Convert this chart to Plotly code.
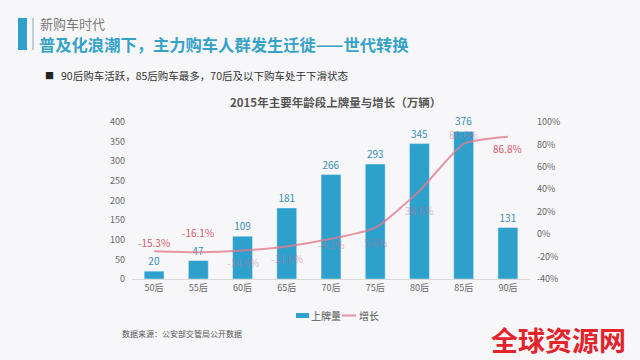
import plotly.graph_objects as go

categories = ["50后", "55后", "60后", "65后", "70后", "75后", "80后", "85后", "90后"]
plates = [20, 47, 109, 181, 266, 293, 345, 376, 131]
growth = [-15.3, -16.1, -14.6, -11.0, -4.2, 5.6, 38.6, 80.6, 86.8]
growth_label_shift = [9, 20, -12, -12, -6, -15, -20, 9, -12]
growth_over_bar = [False, False, True, True, True, True, True, True, False]
left_ticks = [0, 50, 100, 150, 200, 250, 300, 350, 400]
right_ticks = [-40, -20, 0, 20, 40, 60, 80, 100]

FONT = "Noto Sans CJK SC, Noto Sans, sans-serif"
BG = "#f7f7f9"
BAR = "#2ea0cc"
LINE = "rgba(226,124,142,0.8)"
RED = "#d65a6c"
RED_FADED = "rgba(200,110,140,0.5)"

fig = go.Figure()
fig.add_trace(go.Bar(
    x=categories, y=plates, name="上牌量", marker_color=BAR,
    text=[str(v) for v in plates], textposition="outside",
    textfont=dict(color="#3a8cb6", size=10, family=FONT), cliponaxis=False,
    showlegend=False, hoverinfo="skip",
))
fig.add_trace(go.Scatter(
    x=categories, y=growth, name="增长", yaxis="y2", mode="lines",
    line=dict(color=LINE, width=2, shape="spline", smoothing=0.5),
    cliponaxis=False, showlegend=False, hoverinfo="skip",
))

for cat, val, shift, over in zip(categories, growth, growth_label_shift, growth_over_bar):
    fig.add_annotation(x=cat, y=val, xref="x", yref="y2", yshift=shift, showarrow=False,
                       text=f"{val:.1f}%",
                       font=dict(size=10, family=FONT, color=RED_FADED if over else RED))

fig.update_layout(
    width=640, height=360,
    paper_bgcolor=BG, plot_bgcolor=BG,
    margin=dict(l=132, r=110, t=122, b=81),
    font=dict(family=FONT, color="#666", size=9),
    bargap=0.55,
    xaxis=dict(showline=True, linecolor="#d9d9d9", linewidth=1, ticks="",
               tickfont=dict(size=9, color="#666"), showgrid=False),
    yaxis=dict(range=[0, 400], tickvals=left_ticks, showgrid=False, zeroline=False,
               showline=False, tickfont=dict(size=9, color="#666"), ticklabelstandoff=6),
    yaxis2=dict(range=[-40, 100], tickvals=right_ticks, ticktext=[f"{v}%" for v in right_ticks],
                overlaying="y", side="right", showgrid=False, zeroline=False, showline=False,
                tickfont=dict(size=9, color="#666"), ticklabelstandoff=6),
)


def px_x(x):
    return (x - 132) / 398


def px_y(y):
    return (279 - y) / 157


# header decoration
fig.add_shape(type="rect", xref="paper", yref="paper", line_width=0, fillcolor="#2fa0c9",
              x0=px_x(18), x1=px_x(27), y0=px_y(50), y1=px_y(18))
fig.add_shape(type="line", xref="paper", yref="paper", line=dict(color="#8fa9b6", width=1),
              x0=px_x(33), x1=px_x(33), y0=px_y(50), y1=px_y(18))

# custom legend
fig.add_shape(type="rect", xref="paper", yref="paper", line_width=0, fillcolor=BAR,
              x0=px_x(296), x1=px_x(309), y0=px_y(318), y1=px_y(313))
fig.add_shape(type="line", xref="paper", yref="paper", line=dict(color=LINE, width=2),
              x0=px_x(342), x1=px_x(356), y0=px_y(315.5), y1=px_y(315.5))

ann = [
    dict(text="新购车时代", x=38, y=24, size=13, color="#7a7a7a", xanchor="left"),
    dict(text="<b>普及化浪潮下，主力购车人群发生迁徙——世代转换</b>", x=37, y=44, size=16.3,
         color="#36a2c8", xanchor="left"),
    dict(text="■", x=43, y=75, size=9, color="#222", xanchor="left"),
    dict(text="90后购车活跃，85后购车最多，70后及以下购车处于下滑状态", x=59, y=75, size=10.5,
         color="#333", xanchor="left"),
    dict(text="<b>2015年主要年龄段上牌量与增长（万辆）</b>", x=335, y=102, size=11.5,
         color="#555", xanchor="center"),
    dict(text="上牌量", x=309, y=315.5, size=10, color="#555", xanchor="left"),
    dict(text="增长", x=357, y=315.5, size=10, color="#555", xanchor="left"),
    dict(text="数据来源：公安部交管局公开数据", x=120, y=333, size=8,
         color="#555", xanchor="left"),
    dict(text="<b>全球资源网</b>", x=558, y=339, size=27,
         color="#e3242b", xanchor="center"),
]
for a in ann:
    fig.add_annotation(text=a["text"], xref="paper", yref="paper", x=px_x(a["x"]), y=px_y(a["y"]),
                       xanchor=a["xanchor"], yanchor="middle", showarrow=False,
                       font=dict(size=a["size"], color=a["color"], family=FONT))

fig.write_html("out.html", config={"displayModeBar": False},
               post_script="document.body.style.margin='0';")
